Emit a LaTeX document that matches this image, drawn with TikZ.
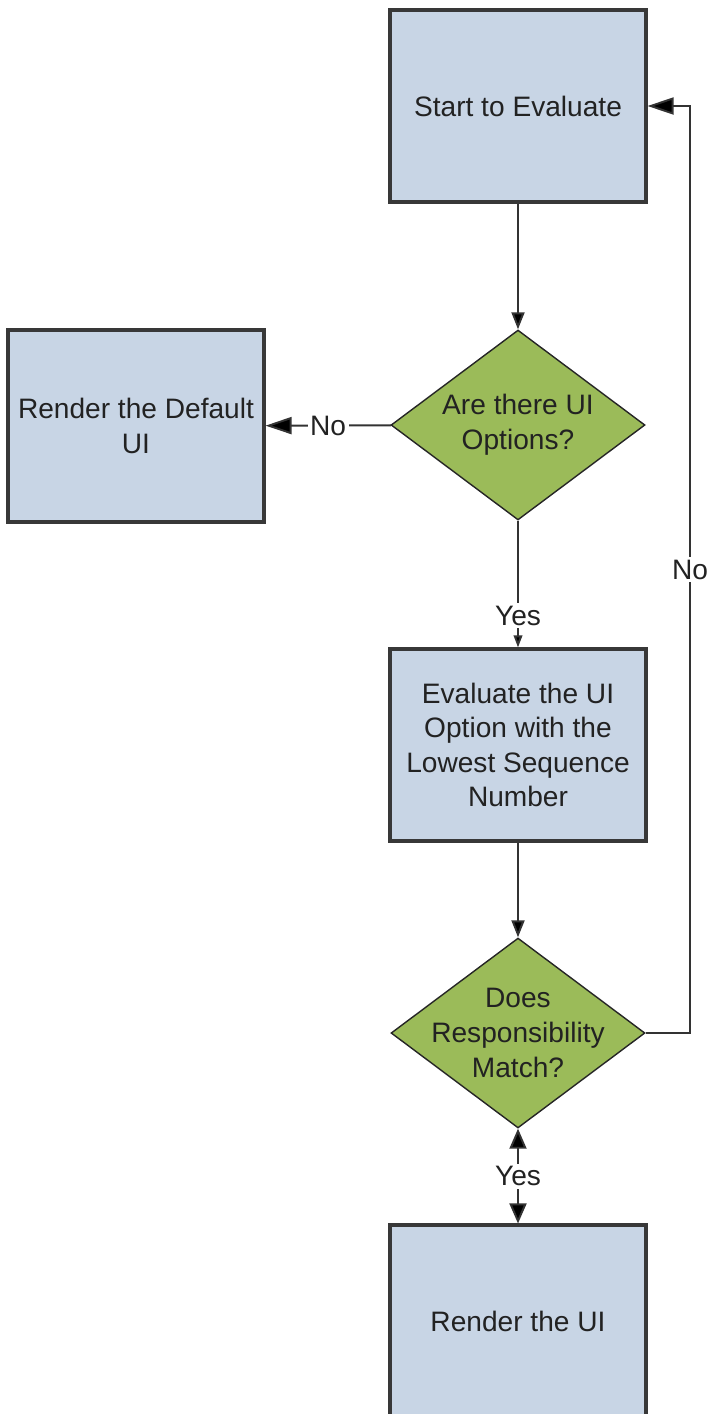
\documentclass[tikz,border=0pt]{standalone}
\usepackage{fontspec}
\setmainfont{Liberation Sans}
\usetikzlibrary{shapes.geometric,arrows.meta}

\definecolor{boxblue}{HTML}{C8D5E5}
\definecolor{decgreen}{HTML}{9BBB59}
\definecolor{edgegray}{HTML}{383838}
\definecolor{inkgray}{HTML}{222222}

\tikzset{
	process/.style={rectangle, draw=edgegray, line width=1.8pt, fill=boxblue,
		minimum width=5.12cm, minimum height=3.84cm, align=center,
		font=\fontsize{16}{19.5}\selectfont, text=inkgray},
	decision/.style={diamond, draw=black!85, line width=0.8pt, fill=decgreen,
		minimum width=5.08cm, minimum height=3.8cm, inner sep=0pt},
	dectext/.style={align=center, font=\fontsize{16}{19.8}\selectfont, text=inkgray},
	flow/.style={line width=1.1pt, draw=black!80},
	bigtip/.style={-{Triangle[length=0.52cm,width=0.34cm,fill=black]}},
	midtip/.style={-{Triangle[length=0.34cm,width=0.26cm,fill=black]}},
	smalltip/.style={-{Triangle[length=0.24cm,width=0.17cm,fill=black]}},
	bothtip/.style={{Triangle[length=0.4cm,width=0.34cm,fill=black]}-{Triangle[length=0.4cm,width=0.34cm,fill=black]}},
	answer/.style={fill=white, inner sep=1.5pt, font=\fontsize{16}{19}\selectfont, text=inkgray}
}

\begin{document}
\begin{tikzpicture}[x=0.02cm, y=-0.02cm]
	\useasboundingbox (0,0) rectangle (710,1414);
	\clip (0,0) rectangle (710,1414);

	% boxes
	\node[process] (start) at (518,106) {Start to Evaluate};
	\node[process] (default) at (136,426) {Render the Default\\UI};
	\node[process] (evaluate) at (518,745) {Evaluate the UI\\Option with the\\Lowest Sequence\\Number};
	\node[process] (render) at (518,1321) {Render the UI};

	% decisions
	\node[decision] (options) at (518,425) {};
	\node[dectext] (optionstext) at (options) {Are there UI\\Options?};
	\node[decision] (match) at (518,1033) {};
	\node[dectext] (matchtext) at (match) {Does\\Responsibility\\Match?};

	% connectors
	\draw[flow, midtip] (start) -- (options);
	\draw[flow, bigtip] (options) -- node[answer] (nolabel) {No} (default);
	\draw[flow, smalltip] (options) -- node[answer, pos=0.75] (yeslabel) {Yes} (evaluate);
	\draw[flow, midtip] (evaluate) -- (match);
	\draw[flow, bothtip] (match) -- node[answer] (yesrender) {Yes} (render);

	\coordinate (loopbot) at (690,1033);
	\coordinate (looptop) at (690,106);
	\draw[flow, bigtip] (match.east) -- (loopbot) -- node[answer] (noloop) {No} (looptop) -- (start.east);

\end{tikzpicture}
\end{document}
